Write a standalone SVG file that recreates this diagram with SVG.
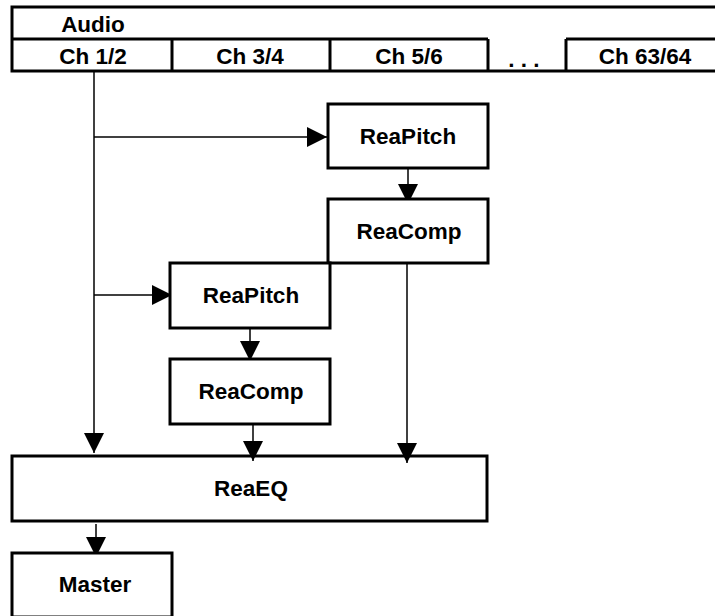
<svg xmlns="http://www.w3.org/2000/svg" width="715" height="616" viewBox="0 0 715 616">
<style>
.box{fill:#fff;stroke:#000;stroke-width:3}
.ln{fill:none;stroke:#000;stroke-width:3}
.t{font-family:"Liberation Sans",Arial,sans-serif;font-weight:bold;font-size:22.5px;fill:#000;text-anchor:middle}
.c{fill:none;stroke:#000;stroke-width:1.5}
</style>
<defs>
<marker id="ah" markerUnits="userSpaceOnUse" markerWidth="24" markerHeight="24" refX="20" refY="10" orient="auto">
<path d="M0,0 L20,10 L0,20 z" fill="#000"/>
</marker>
</defs>
<rect width="715" height="616" fill="#fff"/>
<g id="audio">
<rect class="box" x="12" y="7" width="720" height="64"/>
<path class="ln" d="M12,39 H488 M566,39 H732 M172,39 V71 M330,39 V71 M488,39 V71 M566,39 V71"/>
<text class="t" x="93" y="32">Audio</text>
<text class="t" x="93" y="64">Ch 1/2</text>
<text class="t" x="250" y="64">Ch 3/4</text>
<text class="t" x="409" y="64">Ch 5/6</text>
<text class="t" x="524" y="67">. . .</text>
<text class="t" x="645" y="64">Ch 63/64</text>
</g>
<g id="connectors">
<path class="c" d="M94,72 V453" marker-end="url(#ah)"/>
<path class="c" d="M94,137 H327" marker-end="url(#ah)"/>
<path class="c" d="M94,295 H172" marker-end="url(#ah)"/>
<path class="c" d="M408,168 V204" marker-end="url(#ah)"/>
<path class="c" d="M250,328 V361" marker-end="url(#ah)"/>
<path class="c" d="M96,524 V557" marker-end="url(#ah)"/>
</g>
<g id="reapitch1">
<rect class="box" x="328" y="104" width="160" height="64"/>
<text class="t" x="408" y="144">ReaPitch</text>
</g>
<g id="reacomp1">
<rect class="box" x="328" y="199" width="160" height="64"/>
<text class="t" x="409" y="239">ReaComp</text>
</g>
<g id="reapitch2">
<rect class="box" x="170" y="263" width="160" height="65"/>
<text class="t" x="251" y="303">ReaPitch</text>
</g>
<g id="reacomp2">
<rect class="box" x="170" y="359" width="160" height="65"/>
<text class="t" x="251" y="399">ReaComp</text>
</g>
<g id="reaeq">
<rect class="box" x="12" y="456" width="475" height="65"/>
<text class="t" x="251" y="496">ReaEQ</text>
</g>
<g id="connectors2">
<path class="c" d="M407,264 V463" marker-end="url(#ah)"/>
<path class="c" d="M253,424 V461" marker-end="url(#ah)"/>
</g>
<g id="master">
<rect class="box" x="12" y="553" width="160" height="64"/>
<text class="t" x="95" y="592">Master</text>
</g>
</svg>
